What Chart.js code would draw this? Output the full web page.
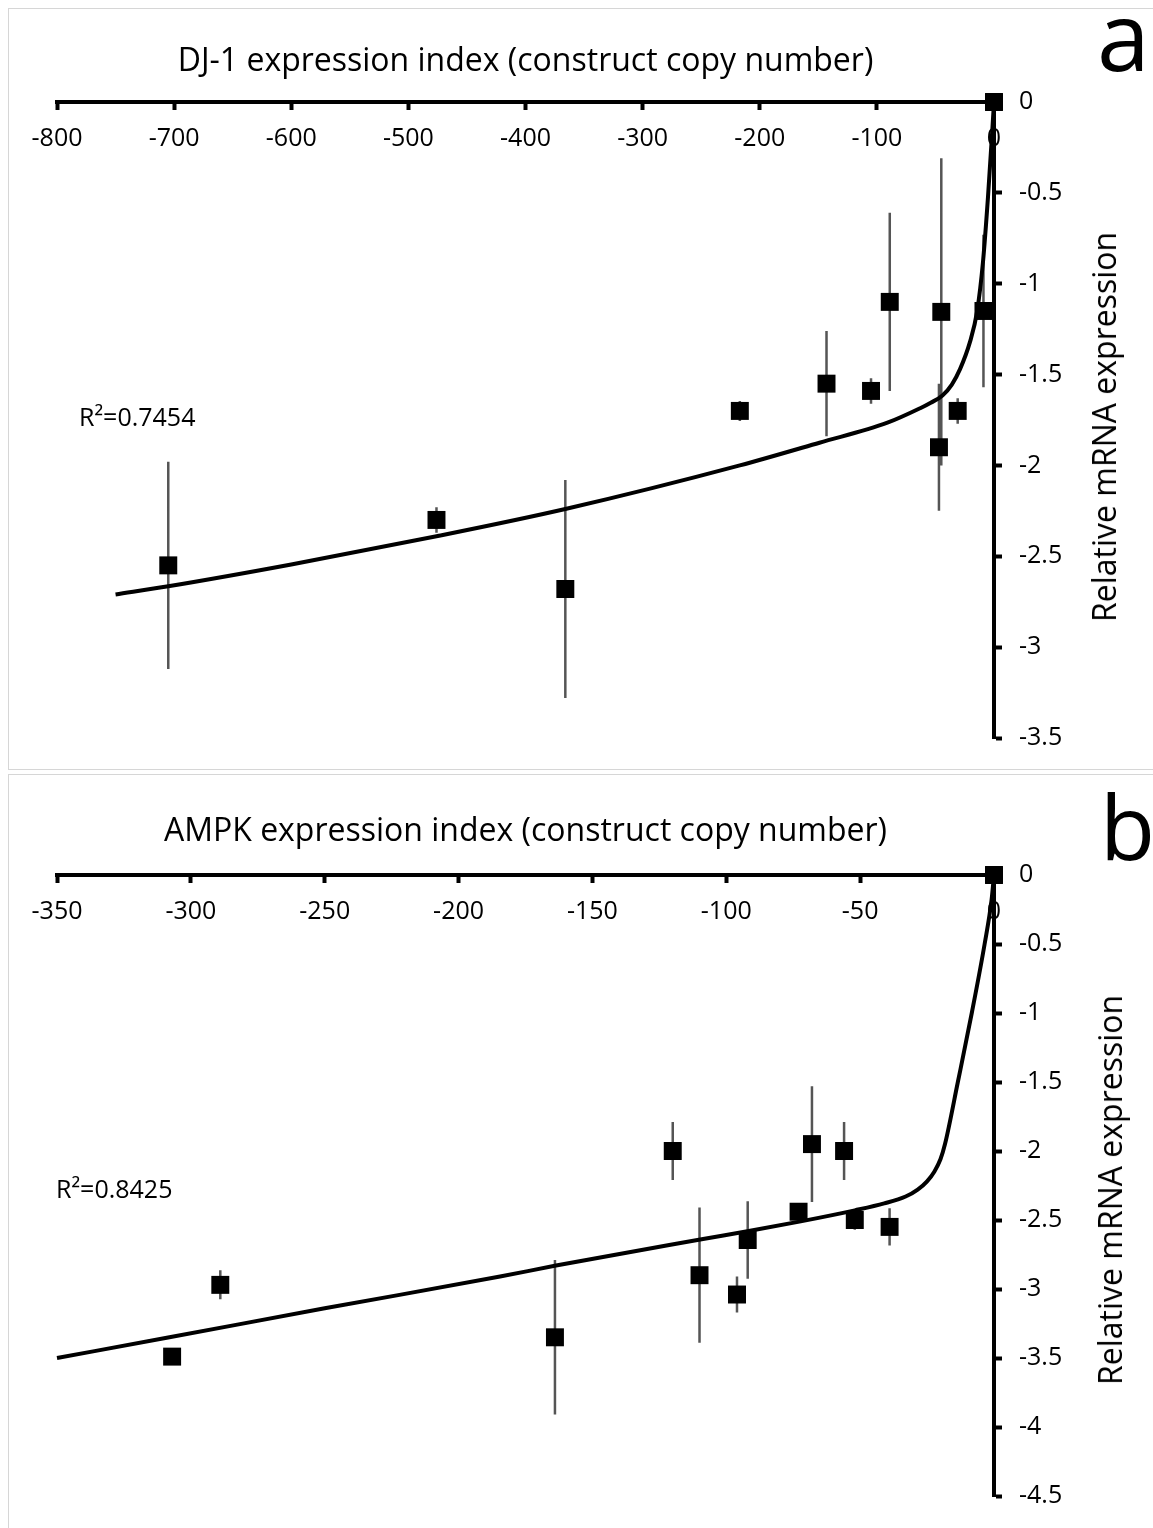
<!DOCTYPE html>
<html>
<head>
<meta charset="utf-8">
<script src="https://cdn.jsdelivr.net/npm/chart.js@4.4.1/dist/chart.umd.min.js"></script>
<style>
  html, body { margin: 0; padding: 0; background: #fff; }
  body { width: 1153px; height: 1528px; position: relative; overflow: hidden; font-family: 'Open Sans', sans-serif; color: #000; }
  .frame { position: absolute; border: 1.5px solid #d6d6d6; box-sizing: border-box; }
  canvas { position: absolute; left: 0; }
  .lbl { position: absolute; white-space: nowrap; line-height: 1; }
  .ytitle { position: absolute; white-space: nowrap; font-size: 32px; line-height: 1; transform: translate(-50%, -50%) rotate(-90deg); }
</style>
</head>
<body>
<div class="frame" style="left:8px;top:8px;width:1160px;height:762px"></div>
<div class="frame" style="left:8px;top:774px;width:1160px;height:770px"></div>
<canvas id="chartA" width="1153" height="770" style="top:0"></canvas>
<canvas id="chartB" width="1153" height="758" style="top:770px"></canvas>

<div class="lbl" style="left:1097px;top:-13px;font-size:95px">a</div>
<div class="lbl" style="left:1100px;top:780px;font-size:90px">b</div>
<div class="lbl" style="left:79px;top:404px;font-size:25px">R²=0.7454</div>
<div class="lbl" style="left:56px;top:1176px;font-size:25px">R²=0.8425</div>
<div class="ytitle" style="left:1104px;top:427px">Relative mRNA expression</div>
<div class="ytitle" style="left:1110px;top:1190px">Relative mRNA expression</div>

<script>
// panel a: DJ-1
const dj1X   = [-705, -476, -366, -217, -143, -105, -89, -45, -47, -31, -9, 0];
const dj1Y   = [-2.55, -2.30, -2.68, -1.70, -1.55, -1.59, -1.10, -1.155, -1.90, -1.70, -1.15, 0];
const dj1Err = [0.57, 0.07, 0.60, 0.055, 0.29, 0.07, 0.49, 0.845, 0.35, 0.07, 0.42, 0];
// trend curve
const dj1FitX = [-750, -705, -600, -476, -366, -217, -149, -91, -63, -54, -44, -36, -29, -20.5, -14.5, -9.4, -5.1, -1.5, 0];
const dj1FitY = [-2.71, -2.665, -2.545, -2.39, -2.24, -2.00, -1.875, -1.765, -1.685, -1.655, -1.615, -1.555, -1.47, -1.32, -1.155, -0.88, -0.52, -0.16, 0];
const dj1XTicks = [-800, -700, -600, -500, -400, -300, -200, -100, 0];
const dj1YTicks = [-3.5, -3, -2.5, -2, -1.5, -1, -0.5, 0];

// panel b: AMPK
const ampkX   = [-307, -289, -164, -120, -110, -96, -92, -73, -68, -56, -52, -39, 0];
const ampkY   = [-3.49, -2.97, -3.35, -2.00, -2.90, -3.04, -2.645, -2.44, -1.95, -2.00, -2.50, -2.55, 0];
const ampkErr = [0.03, 0.105, 0.56, 0.21, 0.49, 0.13, 0.28, 0.03, 0.42, 0.21, 0.07, 0.135, 0];
const ampkFitX = [-350, -308, -250, -184.5, -163.6, -109.2, -91.6, -72.2, -52, -41, -33, -28.5, -25, -22.3, -20, -18.3, -13.5, -8.3, -3.5, -0.9, 0];
const ampkFitY = [-3.50, -3.35, -3.14, -2.91, -2.83, -2.64, -2.58, -2.51, -2.43, -2.38, -2.33, -2.28, -2.22, -2.15, -2.06, -1.95, -1.50, -1.00, -0.50, -0.18, 0];
const ampkXTicks = [-350, -300, -250, -200, -150, -100, -50, 0];
const ampkYTicks = [-4.5, -4, -3.5, -3, -2.5, -2, -1.5, -1, -0.5, 0];

Chart.defaults.font.family = "'Open Sans', sans-serif";
Chart.defaults.color = '#000';

function pairs(xs, ys) {
  return xs.map((x, i) => ({ x: x, y: ys[i] }));
}

// vertical error bars as broken line segments
function errorSegments(xs, ys, errs) {
  const pts = [];
  xs.forEach((x, i) => {
    if (!errs[i]) return;
    pts.push({ x: x, y: ys[i] - errs[i] }, { x: x, y: ys[i] + errs[i] }, { x: x, y: null });
  });
  return pts;
}

function makePanel(id, p) {
  new Chart(document.getElementById(id), {
    type: 'scatter',
    data: {
      datasets: [
        {
          type: 'line',
          data: errorSegments(p.xs, p.ys, p.errs),
          borderColor: '#555',
          borderWidth: 2.5,
          pointRadius: 0,
          spanGaps: false,
          clip: false,
          order: 3
        },
        {
          type: 'line',
          data: pairs(p.fitX, p.fitY),
          borderColor: '#000',
          borderWidth: 4,
          pointRadius: 0,
          cubicInterpolationMode: 'monotone',
          clip: false,
          order: 1
        },
        {
          data: pairs(p.xs, p.ys),
          pointStyle: 'rect',
          pointRadius: 12.7,
          pointHoverRadius: 12.7,
          backgroundColor: '#000',
          borderWidth: 0,
          clip: false,
          order: 2
        }
      ]
    },
    options: {
      responsive: false,
      animation: false,
      events: [],
      layout: { padding: { left: 57, right: 0, top: 0, bottom: p.padBottom } },
      plugins: {
        legend: { display: false },
        tooltip: { enabled: false },
        title: {
          display: true,
          text: p.title,
          fullSize: false,
          color: '#000',
          font: { size: 32, weight: 'normal' },
          padding: { top: 42.8, bottom: p.titleGap }
        }
      },
      scales: {
        x: {
          type: 'linear',
          position: { y: 0 },
          min: p.xTicks[0],
          max: p.xTicks[p.xTicks.length - 1],
          afterBuildTicks: s => { s.ticks = p.xTicks.map(v => ({ value: v })); },
          ticks: { font: { size: 25 }, padding: 16, maxRotation: 0, color: '#000', callback: v => String(v) },
          grid: { drawOnChartArea: false, tickLength: 6, tickWidth: 4, tickColor: '#000' },
          border: { color: '#000', width: 4 }
        },
        y: {
          type: 'linear',
          position: 'right',
          min: p.yTicks[0],
          max: p.yTicks[p.yTicks.length - 1],
          afterBuildTicks: s => { s.ticks = p.yTicks.map(v => ({ value: v })); },
          afterFit: s => { s.width = 159; },
          ticks: { font: { size: 25 }, padding: 17, color: '#000', callback: v => String(v) },
          grid: { drawOnChartArea: false, tickLength: 8, tickWidth: 4, tickColor: '#000' },
          border: { color: '#000', width: 4 }
        }
      }
    }
  });
}

makePanel('chartA', {
  title: 'DJ-1 expression index (construct copy number)',
  xs: dj1X, ys: dj1Y, errs: dj1Err,
  fitX: dj1FitX, fitY: dj1FitY,
  xTicks: dj1XTicks, yTicks: dj1YTicks,
  titleGap: 20.8, padBottom: 29
});

makePanel('chartB', {
  title: 'AMPK expression index (construct copy number)',
  xs: ampkX, ys: ampkY, errs: ampkErr,
  fitX: ampkFitX, fitY: ampkFitY,
  xTicks: ampkXTicks, yTicks: ampkYTicks,
  titleGap: 23.8, padBottom: 19
});
</script>
</body>
</html>
